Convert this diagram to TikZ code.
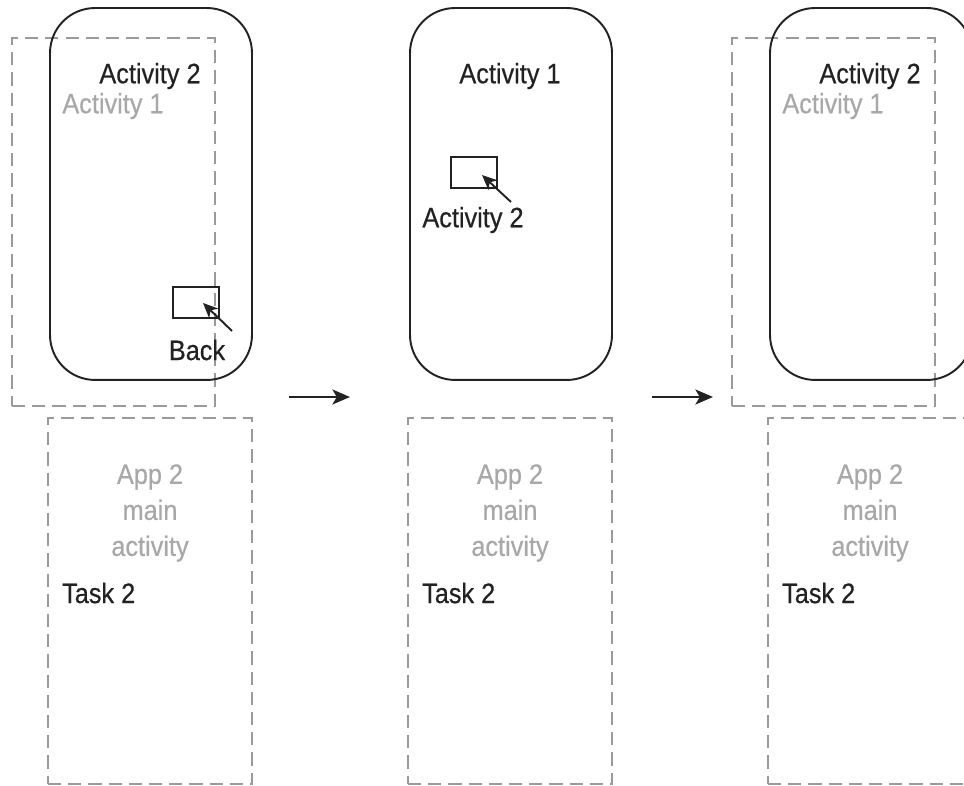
\documentclass[tikz,border=0pt]{standalone}
\usepackage{fontspec}
\setmainfont[FakeStretch=0.9,FakeBold=0.5]{Liberation Sans}
\usetikzlibrary{positioning,arrows.meta}

\definecolor{lightgray}{HTML}{A8A8A8}
\definecolor{dashgray}{HTML}{9A9A9A}
\definecolor{ink}{HTML}{222222}

\begin{document}
\begin{tikzpicture}[
    x=0.02cm, y=-0.02cm,
    font=\fontsize{16}{20.5}\selectfont,
    phone/.style={draw=ink, line width=1.1pt, rounded corners=0.9cm, minimum width=4.04cm, minimum height=7.44cm, inner sep=0pt},
    % dashed boxes for the stack and the task
    stackbox/.style={draw=dashgray, line width=0.8pt, dash pattern=on 7.5pt off 4pt, minimum width=4.06cm, minimum height=7.36cm, inner sep=0pt},
    taskbox/.style={draw=dashgray, line width=0.8pt, dash pattern=on 7.5pt off 4pt, minimum width=4.08cm, minimum height=7.32cm, inner sep=0pt},
    btn/.style={draw=ink, line width=0.9pt, minimum width=0.92cm, minimum height=0.62cm, inner sep=0pt},
    act/.style={text=ink, inner sep=1pt},
    faded/.style={text=lightgray, inner sep=1pt},
    tap/.style={-{Stealth[length=8.5pt,width=7.5pt,inset=2.5pt]}, draw=ink, line width=1.1pt},
    goes/.style={-{Stealth[length=10pt,width=8.5pt,inset=2.5pt]}, draw=ink, line width=1.3pt}
]
    \useasboundingbox (0,0) rectangle (964,786);
    \clip (0,0) rectangle (964,786);

    % first state
    \node[stackbox] (stacka) at (113.5,222) {};
    \node[phone] (phonea) at (151,194) {};
    \node[act] (topa) at (150,76) {Activity 2};
    \node[faded] (undera) at (113,106) {Activity 1};
    \node[btn] (backbtn) at (196,302.5) {};
    \node[act] (backlbl) at (197,350) {Back};
    \coordinate (backtail) at (232,331);
    \node[taskbox] (taska) at (150,601) {};
    \node[faded, align=center] (appa) at (150,513) {App 2\\main\\activity};
    \node[act, anchor=west] (taskla) at (60,593) {Task 2};

    % second state
    \node[phone] (phoneb) at (511,194) {};
    \node[act] (topb) at (510,76) {Activity 1};
    \node[btn] (startbtn) at (474,172.5) {};
    \node[act] (startlbl) at (473,220) {Activity 2};
    \coordinate (starttail) at (511,202);
    \node[taskbox] (taskb) at (510,601) {};
    \node[faded, align=center] (appb) at (510,513) {App 2\\main\\activity};
    \node[act, anchor=west] (tasklb) at (420,593) {Task 2};

    % third state
    \node[stackbox] (stackc) at (833.5,222) {};
    \node[phone] (phonec) at (871,194) {};
    \node[act] (topc) at (870,76) {Activity 2};
    \node[faded] (underc) at (833,106) {Activity 1};
    \node[taskbox] (taskc) at (870,601) {};
    \node[faded, align=center] (appc) at (870,513) {App 2\\main\\activity};
    \node[act, anchor=west] (tasklc) at (780,593) {Task 2};

    \draw[tap] (starttail) -- (482,175);
    \draw[tap] (backtail) -- (203,303);

    \coordinate (ga1) at (289,397);
    \coordinate (ga2) at (350,397);
    \coordinate (gb1) at (652,397);
    \coordinate (gb2) at (713,397);
    \draw[goes] (ga1) -- (ga2);
    \draw[goes] (gb1) -- (gb2);
\end{tikzpicture}
\end{document}
